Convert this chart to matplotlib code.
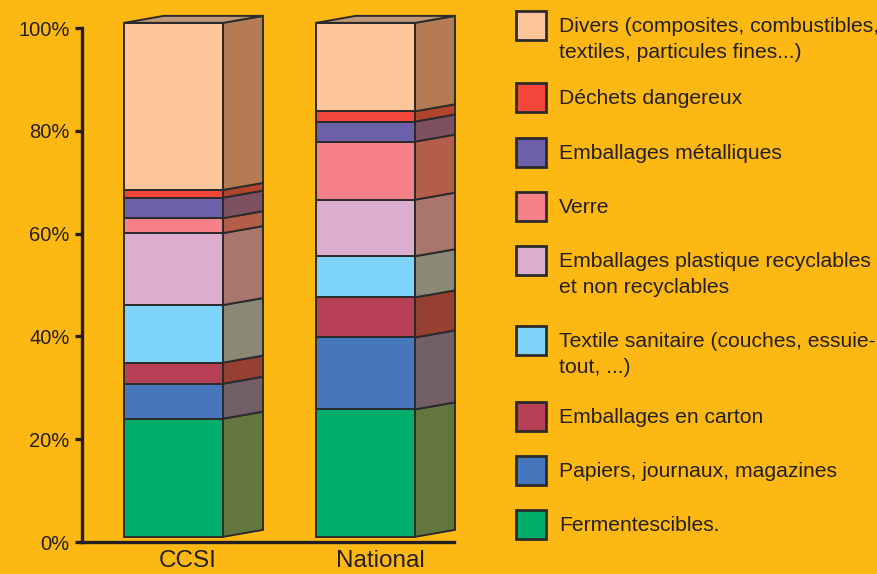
import numpy as np
import matplotlib
matplotlib.use("Agg")
import matplotlib.pyplot as plt
from matplotlib.patches import Polygon, Rectangle
from matplotlib import font_manager

# stacking order, bottom first
categories = [
    "Fermentescibles.",
    "Papiers, journaux, magazines",
    "Emballages en carton",
    "Textile sanitaire (couches, essuie-\ntout, ...)",
    "Emballages plastique recyclables\net non recyclables",
    "Verre",
    "Emballages métalliques",
    "Déchets dangereux",
    "Divers (composites, combustibles,\ntextiles, particules fines...)",
]
groups = ["CCSI", "National"]
ccsi = [23.0, 6.8, 4.1, 11.2, 14.0, 2.9, 4.0, 1.5, 32.5]
national = [24.8, 14.0, 7.8, 8.0, 11.0, 11.3, 3.9, 2.0, 17.2]
yticks = [0, 20, 40, 60, 80, 100]

front_colors = ["#00AD6B", "#4677BD", "#B64056", "#7DD4F8", "#DDADD0",
                "#F48188", "#6C60A8", "#F2463A", "#FFC59A"]
side_colors = ["#63763F", "#725E67", "#954030", "#8C8876", "#AA756C",
               "#B25E4B", "#7D5062", "#B1452B", "#B57B52"]
top_color = "#BF9878"
bg = "#FDB813"
ink = "#231F20"
edge = "#2B2B2B"

names = {f.name for f in font_manager.fontManager.ttflist}
if "Liberation Sans Narrow" in names:
    fam, k = "Liberation Sans Narrow", 1.22
else:
    fam, k = "Liberation Sans", 1.0
plt.rcParams["font.family"] = [fam, "DejaVu Sans"]

fig = plt.figure(figsize=(8.78, 5.74), dpi=100, facecolor=bg)
ax = fig.add_axes([82 / 878, 32 / 574, 372 / 878, 514 / 574])
ax.set_facecolor(bg)

x = np.arange(len(groups))
width = 0.516
dx, dy = 0.208, 1.36   # depth of the pseudo-3D side
base = 1.0

for xi, vals in zip(x, [ccsi, national]):
    bottoms = base + np.concatenate([[0], np.cumsum(vals)[:-1]])
    ax.bar(xi, vals, bottom=bottoms, width=width, color=front_colors,
           edgecolor=edge, linewidth=1.4, clip_on=False, zorder=3)
    x1 = xi + width / 2
    for b, v, c in zip(bottoms, vals, side_colors):
        t = b + v
        ax.add_patch(Polygon([(x1, b), (x1 + dx, b + dy), (x1 + dx, t + dy), (x1, t)],
                             closed=True, facecolor=c, edgecolor=edge,
                             linewidth=1.4, clip_on=False, zorder=3))
    top = base + sum(vals)
    x0 = xi - width / 2
    ax.add_patch(Polygon([(x0, top), (x0 + dx, top + dy), (x1 + dx, top + dy), (x1, top)],
                         closed=True, facecolor=top_color, edgecolor=edge,
                         linewidth=1.4, clip_on=False, zorder=3))

ax.set_xlim(-0.4766, 1.461)
ax.set_ylim(0, 100)
ax.set_yticks(yticks)
ax.set_yticklabels([f"{v}%" for v in yticks], fontsize=14.5 * k, color=ink)
ax.set_xticks(x + 0.075)
ax.set_xticklabels(groups, fontsize=17.5 * k, color=ink)
ax.tick_params(axis="y", length=5, width=2.4, color=ink, pad=4)
ax.tick_params(axis="x", length=0, pad=6)
for s in ["top", "right"]:
    ax.spines[s].set_visible(False)
for s in ["left", "bottom"]:
    ax.spines[s].set_linewidth(2.4)
    ax.spines[s].set_color(ink)

# legend drawn by hand in pixel space
lg = fig.add_axes([0, 0, 1, 1])
lg.set_xlim(0, 878)
lg.set_ylim(574, 0)
lg.axis("off")
legend_y = [25, 97, 152, 206, 260, 340, 416, 470, 524]
for cy, lab, c in zip(legend_y, categories[::-1], front_colors[::-1]):
    lg.add_patch(Rectangle((516, cy - 14.5), 30, 29, facecolor=c,
                           edgecolor=edge, linewidth=2.0))
    for i, line in enumerate(lab.split("\n")):
        lg.text(559, cy + 7 + i * 26, line, fontsize=15.2 * k, color=ink,
                va="baseline", ha="left")

fig.savefig("out.png", dpi=100, facecolor=bg)
